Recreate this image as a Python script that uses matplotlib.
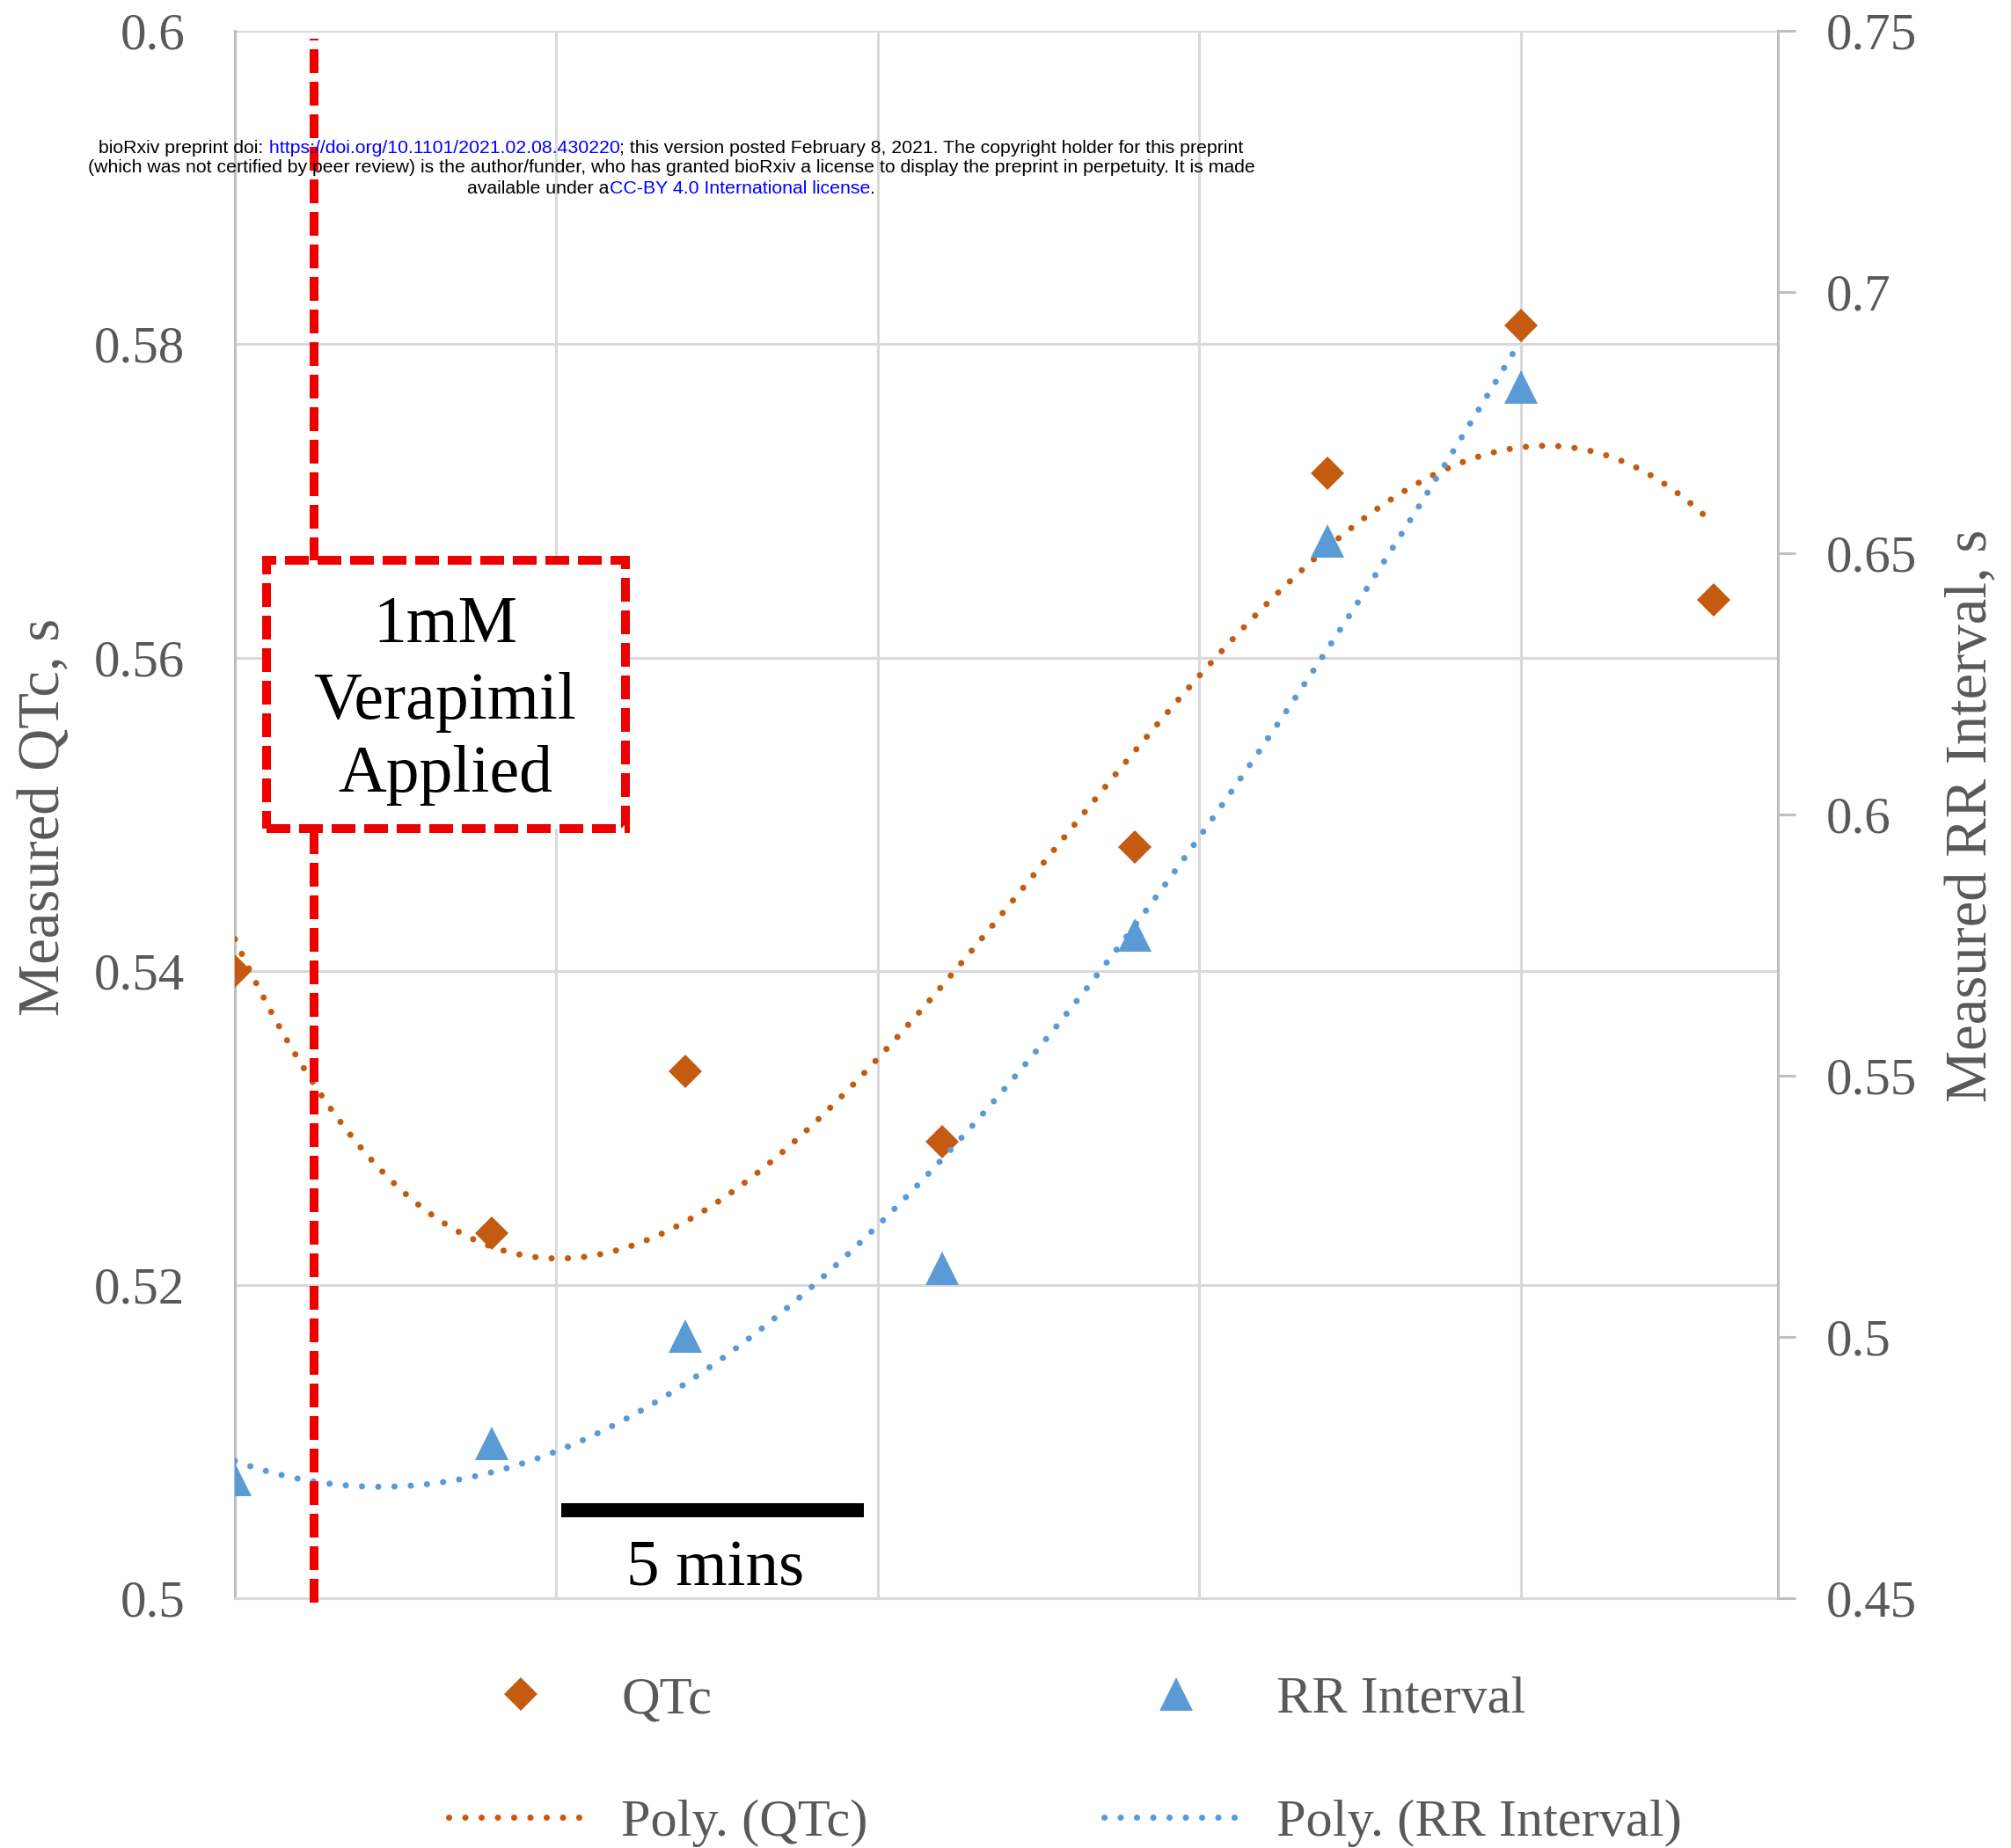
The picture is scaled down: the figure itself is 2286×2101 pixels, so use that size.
import numpy as np
import matplotlib
matplotlib.use("Agg")
import matplotlib.pyplot as plt
from matplotlib.patches import Rectangle

# ---------------- data ----------------
time_qtc = [0, 4, 7, 11, 14, 17, 20, 23]
qtc_values = [0.5400, 0.5233, 0.5336, 0.5291, 0.5479, 0.5718, 0.5812, 0.5637]
time_rr = [0, 4, 7, 11, 14, 17, 20]
rr_values = [0.4728, 0.4797, 0.5001, 0.5131, 0.5769, 0.6523, 0.6818]
x_gridlines = [0, 5, 10, 15, 20]
qtc_ticks = [0.50, 0.52, 0.54, 0.56, 0.58, 0.60]
qtc_tick_labels = ["0.5", "0.52", "0.54", "0.56", "0.58", "0.6"]
rr_ticks = [0.45, 0.50, 0.55, 0.60, 0.65, 0.70, 0.75]
rr_tick_labels = ["0.45", "0.5", "0.55", "0.6", "0.65", "0.7", "0.75"]
series_labels = ["QTc", "RR Interval", "Poly. (QTc)", "Poly. (RR Interval)"]
y_labels = ["Measured QTc, s", "Measured RR Interval, s"]
drug_label_lines = ["1mM", "Verapimil", "Applied"]
scale_label = "5 mins"
header_lines = [
    [("bioRxiv preprint doi:", "black"),
     (" https://doi.org/10.1101/2021.02.08.430220", "blue"),
     ("; this version posted February 8, 2021. The copyright holder for this preprint", "black")],
    [("(which was not certified by peer review) is the author/funder, who has granted "
      "bioRxiv a license to display the preprint in perpetuity. It is made", "black")],
    [("available under a", "black"), ("CC-BY 4.0 International license", "blue"), (".", "black")],
]

# ---------------- style ----------------
SERIF = ["Liberation Serif", "DejaVu Serif"]
SANS = ["Liberation Sans", "DejaVu Sans"]
GREY = "#595959"
ORANGE = "#C55A11"
BLUE = "#5B9BD5"
RED = "#EE0000"
GRID = "#D9D9D9"
AXLINE = "#BFBFBF"

W, H, DPI = 22.86, 21.01, 100
fig = plt.figure(figsize=(W, H), dpi=DPI)
fig.patch.set_facecolor("white")

L, R, T, B = 267, 2021, 35, 1817  # axes box in pixels
ax = fig.add_axes([L / 2286, 1 - B / 2101, (R - L) / 2286, (B - T) / 2101])
ax2 = ax.twinx()

dotted = dict(lw=5.1, ls=(0, (0.01, 2.6)), dash_capstyle="round")

# QTc on left axis
qtc_pts, = ax.plot(time_qtc, qtc_values, ls="none", marker="D", ms=19.5,
                   mew=0, color=ORANGE, label=series_labels[0], zorder=4)
cq = np.polyfit(time_qtc, qtc_values, 3)
xq = np.linspace(min(time_qtc), max(time_qtc), 400)
qtc_fit, = ax.plot(xq, np.polyval(cq, xq), color=ORANGE, label=series_labels[2],
                   zorder=3, **dotted)

# RR on right axis
cr = np.polyfit(time_rr, rr_values, 3)
xr = np.linspace(min(time_rr), max(time_rr), 400)
rr_fit, = ax2.plot(xr, np.polyval(cr, xr), color=BLUE, label=series_labels[3],
                   zorder=3, **dotted)
rr_pts, = ax2.plot(time_rr, rr_values, ls="none", marker="^", ms=28, mew=0,
                   color=BLUE, label=series_labels[1], zorder=4)

# axes limits / ticks
ax.set_xlim(0, 24)
ax.set_ylim(0.5, 0.6)
ax2.set_ylim(0.45, 0.75)
ax.set_xticks(x_gridlines)
ax.tick_params(axis="x", length=0, labelbottom=False)
ax.set_yticks(qtc_ticks, qtc_tick_labels)
ax.tick_params(axis="y", length=0, pad=41, labelsize=42.5, labelcolor=GREY)
for lab in ax.get_yticklabels():
    lab.set_family(SERIF)
ax2.set_yticks(rr_ticks, rr_tick_labels)
ax2.tick_params(axis="y", length=14.4, width=2.2, color=AXLINE, pad=25,
                labelsize=42.5, labelcolor=GREY)
for lab in ax2.get_yticklabels():
    lab.set_family(SERIF)

ax.grid(True, color=GRID, lw=2.2)
ax.set_axisbelow(True)
for s in ["top", "right"]:
    ax.spines[s].set_visible(False)
ax.spines["left"].set_color(AXLINE)
ax.spines["left"].set_linewidth(2.2)
ax.spines["bottom"].set_color(GRID)
ax.spines["bottom"].set_linewidth(2.2)
for s in ["top", "left", "bottom"]:
    ax2.spines[s].set_visible(False)
ax2.spines["right"].set_color(AXLINE)
ax2.spines["right"].set_linewidth(2.2)

# axis titles
fig.text(51 / 2286, 1 - 929 / 2101, y_labels[0], rotation=90, ha="center",
         va="center", fontsize=48, color=GREY, family=SERIF)
fig.text(2241 / 2286, 1 - 927 / 2101, y_labels[1], rotation=90, ha="center",
         va="center", fontsize=48, color=GREY, family=SERIF)

# ---------------- annotations (in QTc-axis coordinates) ----------------
dashed_red = dict(color=RED, lw=7.2, ls=(0, (2.7, 1.0)), dash_capstyle="butt")
drug_x = 1.23
ax2.plot([drug_x, drug_x], [0.4997, 0.5995], transform=ax.transData,
         clip_on=False, zorder=6, **dashed_red)
box = Rectangle((0.49, 0.5491), 6.07 - 0.49, 0.5662 - 0.5491, transform=ax.transData,
                facecolor="white", edgecolor=RED, lw=7.2, ls=(0, (2.7, 1.0)),
                zorder=7)
ax2.add_patch(box)
for txt, yb in zip(drug_label_lines, [0.56100, 0.55612, 0.55146]):
    ax2.text(3.27, yb, txt, transform=ax.transData, ha="center", va="baseline",
             fontsize=54.5, color="black", family=SERIF, zorder=8)

ax2.plot([5.07, 9.79], [0.5056, 0.5056], transform=ax.transData, color="black",
         lw=11.5, solid_capstyle="butt", zorder=6)
ax2.text(7.47, 0.50079, scale_label, transform=ax.transData, ha="center",
         va="baseline", fontsize=54, color="black", family=SERIF, zorder=8)

# ---------------- legend ----------------
fs_leg = 43.5
leg = fig.legend(handles=[qtc_pts, qtc_fit, rr_pts, rr_fit], ncol=2,
                 loc="upper left", bbox_to_anchor=(510 / 2286, 1 - 1905 / 2101),
                 frameon=False, prop={"family": SERIF, "size": fs_leg},
                 labelcolor=GREY, handlelength=2.72, handletextpad=0.53,
                 columnspacing=4.44, labelspacing=1.4, borderpad=0,
                 borderaxespad=0)

# ---------------- header (bioRxiv notice) ----------------
renderer = fig.canvas.get_renderer()
probe = fig.text(0, 0, "".join(p for p, _ in header_lines[0]), fontsize=12,
                 family=SANS)
w12 = probe.get_window_extent(renderer).width
probe.remove()
fs_head = 12 * 1308 / w12
xc_px = 763
for line, yc in zip(header_lines, [169, 191, 214]):
    texts = [fig.text(0, 1 - yc / 2101, s, color=c, fontsize=fs_head,
                      family=SANS, ha="left", va="center", zorder=10)
             for s, c in line]
    widths = [t.get_window_extent(renderer).width for t in texts]
    x = xc_px - sum(widths) / 2
    for t, w in zip(texts, widths):
        t.set_x(x / 2286)
        x += w

fig.savefig("out.png", dpi=DPI, facecolor="white")
